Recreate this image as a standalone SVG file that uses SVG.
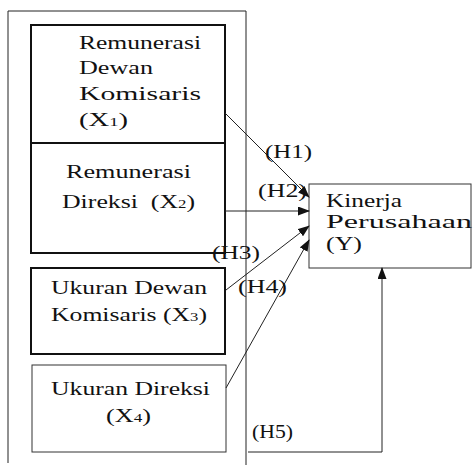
<svg xmlns="http://www.w3.org/2000/svg" width="473" height="465" viewBox="0 0 473 465">
<defs>
<style>
.t{font-family:"Liberation Serif","Times New Roman",serif;font-size:18.5px;fill:#111}
.s{font-size:12px}
.thick{fill:#fff;stroke:#111;stroke-width:2}
.thin{fill:#fff;stroke:#333;stroke-width:1}
.ln{fill:none;stroke:#222;stroke-width:1}
</style>
<marker id="ah" markerWidth="12" markerHeight="9" refX="11" refY="4.5" orient="auto" markerUnits="userSpaceOnUse">
<path d="M0,0 L12,4.5 L0,9 Z" fill="#111"/>
</marker>
</defs>
<rect width="473" height="465" fill="#fff"/>
<g id="frame">
<path class="ln" d="M8,463 V11 H246 V465"/>
</g>
<g id="x1">
<rect class="thick" x="31" y="25" width="194" height="118"/>
<text class="t" x="79" y="49" textLength="122" lengthAdjust="spacingAndGlyphs">Remunerasi</text>
<text class="t" x="79" y="74" textLength="74" lengthAdjust="spacingAndGlyphs">Dewan</text>
<text class="t" x="79" y="100" textLength="122" lengthAdjust="spacingAndGlyphs">Komisaris</text>
<text class="t" x="79" y="126" textLength="49" lengthAdjust="spacingAndGlyphs">(X<tspan class="s">1</tspan>)</text>
</g>
<g id="x2">
<rect class="thick" x="31" y="143" width="194" height="110"/>
<text class="t" x="66" y="178" textLength="125" lengthAdjust="spacingAndGlyphs">Remunerasi</text>
<text class="t" x="62" y="208" textLength="133" lengthAdjust="spacingAndGlyphs" xml:space="preserve">Direksi  (X<tspan class="s">2</tspan>)</text>
</g>
<g id="x3">
<rect class="thick" x="31" y="268" width="194" height="86"/>
<text class="t" x="51" y="294" textLength="156" lengthAdjust="spacingAndGlyphs">Ukuran Dewan</text>
<text class="t" x="51" y="321" textLength="156" lengthAdjust="spacingAndGlyphs">Komisaris (X<tspan class="s">3</tspan>)</text>
</g>
<g id="x4">
<rect class="thin" x="32" y="365" width="194" height="87"/>
<text class="t" x="51" y="395" textLength="159" lengthAdjust="spacingAndGlyphs">Ukuran Direksi</text>
<text class="t" x="106" y="422" textLength="45" lengthAdjust="spacingAndGlyphs">(X<tspan class="s">4</tspan>)</text>
</g>
<g id="y">
<rect class="thin" x="309" y="184" width="162" height="84"/>
<text class="t" x="326" y="207" textLength="76" lengthAdjust="spacingAndGlyphs">Kinerja</text>
<text class="t" x="326" y="228" textLength="146" lengthAdjust="spacingAndGlyphs">Perusahaan</text>
<text class="t" x="326" y="250" textLength="36" lengthAdjust="spacingAndGlyphs">(Y)</text>
</g>
<g id="connectors">
<line class="ln" x1="225" y1="113" x2="309" y2="197" marker-end="url(#ah)"/>
<line class="ln" x1="225" y1="211" x2="309" y2="211" marker-end="url(#ah)"/>
<line class="ln" x1="226" y1="290" x2="309" y2="226" marker-end="url(#ah)"/>
<line class="ln" x1="226" y1="388" x2="309" y2="240" marker-end="url(#ah)"/>
<polyline class="ln" points="248,452 382,452 382,268" marker-end="url(#ah)"/>
</g>
<g id="labels">
<text class="t" x="265" y="158" textLength="47" lengthAdjust="spacingAndGlyphs">(H1)</text>
<text class="t" x="258" y="197" textLength="49" lengthAdjust="spacingAndGlyphs">(H2)</text>
<text class="t" x="212" y="259" textLength="48" lengthAdjust="spacingAndGlyphs">(H3)</text>
<text class="t" x="238" y="293" textLength="49" lengthAdjust="spacingAndGlyphs">(H4)</text>
<text class="t" x="252" y="438" textLength="41" lengthAdjust="spacingAndGlyphs">(H5)</text>
</g>
</svg>
